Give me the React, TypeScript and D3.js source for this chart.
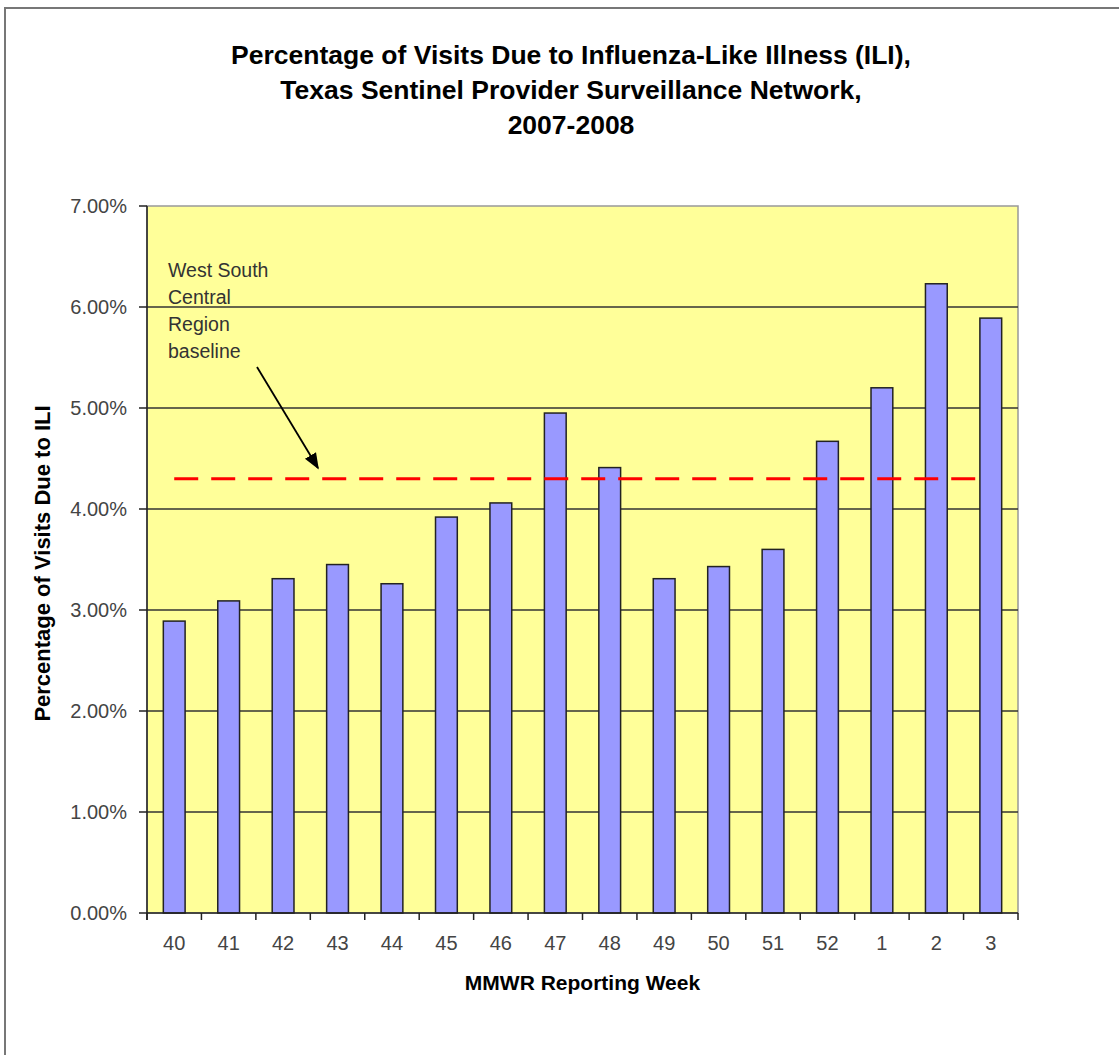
import React from 'react';
import * as d3 from 'd3';

const weeks = ['40', '41', '42', '43', '44', '45', '46', '47', '48', '49', '50', '51', '52', '1', '2', '3'];
const iliPct = [2.89, 3.09, 3.31, 3.45, 3.26, 3.92, 4.06, 4.95, 4.41, 3.31, 3.43, 3.6, 4.67, 5.2, 6.23, 5.89];
const yTicks = [0, 1, 2, 3, 4, 5, 6, 7];
const baselinePct = 4.3;
const titleLines = [
  'Percentage of Visits Due to Influenza-Like Illness (ILI),',
  'Texas Sentinel Provider Surveillance Network,',
  '2007-2008',
];
const noteLines = ['West South', 'Central', 'Region', 'baseline'];

const width = 1119, height = 1055;
const margin = { top: 206, right: 101, bottom: 142, left: 147 };
const font = '"Liberation Sans", Arial, sans-serif';

const App = () => {
  const x = d3.scaleBand()
    .domain(weeks)
    .range([margin.left, width - margin.right])
    .paddingInner(0.6)
    .paddingOuter(0.3);
  const y = d3.scaleLinear()
    .domain([0, 7])
    .range([height - margin.bottom, margin.top]);

  const x0 = margin.left, x1 = width - margin.right;
  const y0 = y(0), yTop = y(7);
  const step = x.step();
  // category boundaries for the x tick marks
  const catTicks = d3.range(weeks.length + 1).map(i => x0 + i * step);

  const baseY = y(baselinePct);
  const dashStart = x(weeks[0]) + x.bandwidth() / 2;
  const dashEnd = x(weeks[weeks.length - 1]);

  return (
    <svg width={width} height={height} style={{ position: 'absolute', left: 0, top: 0, background: '#fff' }}>
      <defs>
        <marker id="arrow" viewBox="0 0 10 10" refX="9" refY="5" markerWidth="9" markerHeight="9" orient="auto">
          <path d="M0,1 L10,5 L0,9 z" fill="#000" />
        </marker>
      </defs>
      {/* outer chart frame */}
      <rect x={5} y={8} width={width + 20} height={height + 20} fill="none" stroke="#777" strokeWidth={2} />

      {/* title */}
      <g fontFamily={font} fontWeight="bold" fontSize={26.5} textAnchor="middle" fill="#000">
        {titleLines.map((t, i) => (
          <text key={i} x={571} y={64 + i * 35}>{t}</text>
        ))}
      </g>

      {/* plot area */}
      <rect x={x0} y={yTop} width={x1 - x0} height={y0 - yTop} fill="#FFFF99" stroke="#999" strokeWidth={1.5} />

      {/* gridlines */}
      {yTicks.filter(t => t > 0 && t < 7).map(t => (
        <line key={t} x1={x0} x2={x1} y1={y(t)} y2={y(t)} stroke="#333" strokeWidth={1.5} />
      ))}

      {/* bars */}
      {weeks.map((w, i) => (
        <rect key={w} x={x(w)} y={y(iliPct[i])} width={x.bandwidth()} height={y0 - y(iliPct[i])}
          fill="#9999FF" stroke="#222" strokeWidth={1.5} />
      ))}

      {/* baseline */}
      <line x1={dashStart} x2={dashEnd} y1={baseY} y2={baseY} stroke="#FF0000" strokeWidth={3} strokeDasharray="24 13" />

      {/* annotation */}
      <g fontFamily={font} fontSize={19.5} fill="#333">
        {noteLines.map((t, i) => (
          <text key={i} x={168} y={277 + i * 27}>{t}</text>
        ))}
      </g>
      <line x1={257} y1={367} x2={318} y2={468} stroke="#000" strokeWidth={1.8} markerEnd="url(#arrow)" />

      {/* y axis */}
      <line x1={x0} x2={x0} y1={yTop} y2={y0 + 7} stroke="#222" strokeWidth={1.5} />
      {yTicks.map(t => (
        <g key={t}>
          <line x1={x0 - 8} x2={x0} y1={y(t)} y2={y(t)} stroke="#222" strokeWidth={1.5} />
          <text x={127} y={y(t)} dy="0.35em" textAnchor="end" fontFamily={font} fontSize={20} fill="#444">
            {d3.format('.2f')(t) + '%'}
          </text>
        </g>
      ))}

      {/* x axis */}
      <line x1={x0} x2={x1} y1={y0} y2={y0} stroke="#222" strokeWidth={1.5} />
      {catTicks.map((cx, i) => (
        <line key={i} x1={cx} x2={cx} y1={y0} y2={y0 + 7} stroke="#222" strokeWidth={1.5} />
      ))}
      {weeks.map(w => (
        <text key={w} x={x(w) + x.bandwidth() / 2} y={943} dy="0.35em" textAnchor="middle"
          fontFamily={font} fontSize={20} fill="#444">{w}</text>
      ))}

      {/* axis titles */}
      <text x={(x0 + x1) / 2} y={990} textAnchor="middle" fontFamily={font} fontWeight="bold" fontSize={21} fill="#000">
        MMWR Reporting Week
      </text>
      <text transform={`translate(50,${(yTop + y0) / 2 + 4}) rotate(-90)`} textAnchor="middle"
        fontFamily={font} fontWeight="bold" fontSize={22} fill="#000">
        Percentage of Visits Due to ILI
      </text>
    </svg>
  );
};

export default App;
